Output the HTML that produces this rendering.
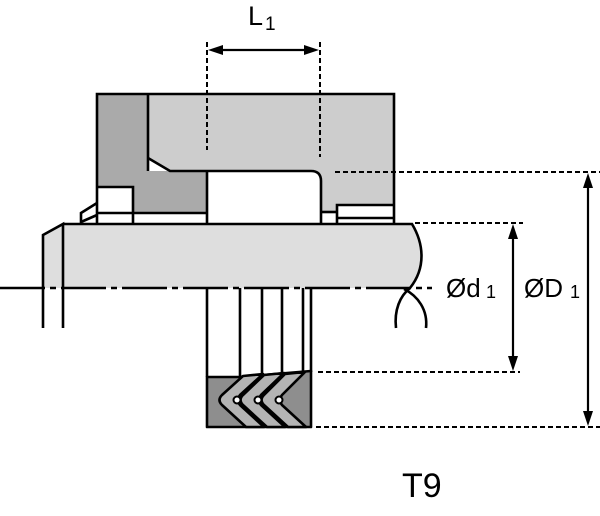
<!DOCTYPE html>
<html><head><meta charset="utf-8"><style>
html,body{margin:0;padding:0;background:#fff;}
svg{display:block;}
text{font-family:"Liberation Sans",sans-serif;fill:#000;}
</style></head><body>
<svg width="600" height="516" viewBox="0 0 600 516" xmlns="http://www.w3.org/2000/svg">
<rect width="600" height="516" fill="#fff"/>
<!-- shaft fill -->
<path d="M43,235 L63,224 L412,224 C424,244 426,268 410,288 L43,288 Z" fill="#dedede"/>
<!-- housing light grey -->
<path d="M148,94 L394,94 L394,205 L337,205 L337,212 L321,212 L321,181 Q321,171 311,171 L170,171 L148,158 Z" fill="#cdcdcd"/>
<!-- housing dark grey -->
<path d="M97,94 L148,94 L148,171 L207,171 L207,213 L133,213 L133,187 L97,187 Z" fill="#aaaaaa"/>
<g fill="none" stroke="#000" stroke-width="2.6" stroke-linejoin="miter">
  <path d="M97,224 L97,94 L394,94 L394,224"/>
  <path d="M148,94 L148,171"/>
  <path d="M148,158 L170,171 L311,171 Q321,171 321,181 L321,224"/>
  <path d="M207,171 L207,224"/>
  <path d="M133,224 L133,187 L97,187"/>
  <path d="M97,213 L207,213"/>
  <path d="M321,212 L337,212"/>
  <path d="M337,224 L337,205 L394,205"/>
  <path d="M337,218 L394,218"/>
  <path d="M97,203 L81,213 L81,223"/>
  <path d="M81,222 L97,215"/>
  <!-- shaft -->
  <path d="M43,328 L43,235 L63,224 L63,328"/>
  <path d="M63,224 L412,224 C424,244 426,268 410,288"/>
  <path d="M410,288 C400,296 394,310 396,328"/>
  <path d="M404,289 C418,296 428,310 426,328"/>
  <!-- seal verticals -->
  <path d="M207,288 L207,377"/>
  <path d="M240,288 L240,377"/>
  <path d="M262,288 L262,375"/>
  <path d="M282,288 L282,373"/>
  <path d="M303,288 L303,372"/>
  <path d="M311,288 L311,372"/>
</g>
<!-- centerline -->
<path d="M0,288 L432,288" stroke="#000" stroke-width="2.4" stroke-dasharray="45 5 6 5" fill="none"/>
<!-- seal box -->
<path d="M207,377 L240,377 L311,371 L311,427 L207,427 Z" fill="#8e8e8e" stroke="#000" stroke-width="2.6" stroke-linejoin="round"/>
<g fill="#b4b4b4" stroke="#000" stroke-width="2.6" stroke-linejoin="round">
  <path d="M243,376 L263,374 L240,395 Q236,400 240,405 L264,427 L246,427 L222,405 Q217,400 222,395 Z"/>
  <path d="M264,375 L284,373 L261,395 Q257,400 261,405 L285,427 L267,427 L243,405 Q238,400 243,395 Z"/>
  <path d="M285,374 L305,372 L282,395 Q278,400 282,405 L306,427 L288,427 L264,405 Q259,400 264,395 Z"/>
</g>
<g fill="#fff" stroke="#000" stroke-width="2">
  <circle cx="237" cy="400" r="3.5"/>
  <circle cx="258" cy="400" r="3.5"/>
  <circle cx="279" cy="400" r="3.5"/>
</g>
<!-- dimension dotted lines -->
<g fill="none" stroke="#000" stroke-width="2" stroke-dasharray="5 3">
  <path d="M207,42 L207,150"/>
  <path d="M320,42 L320,157"/>
  <path d="M415,223 L523,223"/>
  <path d="M318,372 L520,372"/>
  <path d="M335,172 L600,172"/>
  <path d="M316,427 L600,427"/>
</g>
<!-- arrows -->
<g stroke="#000" stroke-width="2.2" fill="none">
  <path d="M215,50 L312,50"/>
  <path d="M513,232 L513,363"/>
  <path d="M588,181 L588,418"/>
</g>
<g fill="#000">
  <path d="M208,50 L223,45 L223,55 Z"/>
  <path d="M319,50 L304,45 L304,55 Z"/>
  <path d="M513,224 L508,239 L518,239 Z"/>
  <path d="M513,371 L508,356 L518,356 Z"/>
  <path d="M588,173 L583,188 L593,188 Z"/>
  <path d="M588,426 L583,411 L593,411 Z"/>
</g>
<!-- labels -->
<text x="248" y="25" font-size="27">L</text>
<text x="265" y="30" font-size="19">1</text>
<text x="446" y="297" font-size="26">Ød</text>
<text x="486" y="298" font-size="18">1</text>
<text x="524" y="297" font-size="26">ØD</text>
<text x="570" y="298" font-size="18">1</text>
<text x="402" y="497" font-size="34">T9</text>
</svg>
</body></html>
